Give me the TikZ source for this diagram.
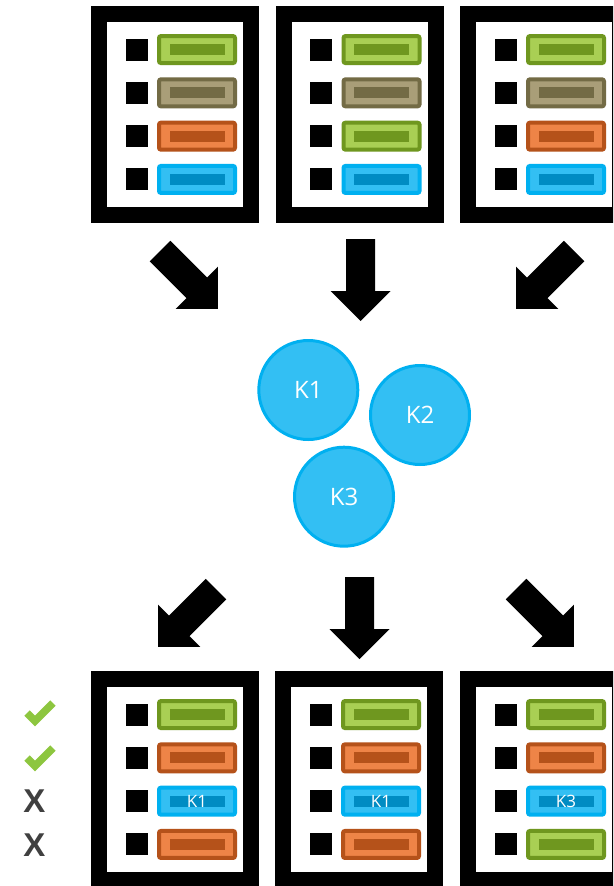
\documentclass[tikz,border=0pt]{standalone}
\usepackage{fontspec}
\setsansfont{Open Sans}
\newfontfamily\marcafont{Liberation Sans}
\usetikzlibrary{positioning}
\definecolor{gfill}{HTML}{A9CF54}
\definecolor{gline}{HTML}{6F971F}
\definecolor{tfill}{HTML}{A99E78}
\definecolor{tline}{HTML}{736B45}
\definecolor{ofill}{HTML}{EE8447}
\definecolor{oline}{HTML}{B5521A}
\definecolor{bfill}{HTML}{33BFF3}
\definecolor{bline}{HTML}{00B0F0}
\definecolor{bdark}{HTML}{008CC3}
\definecolor{okgreen}{HTML}{8DC63F}
\definecolor{xgray}{HTML}{404040}
\begin{document}
\begin{tikzpicture}[x=1pt, y=-1pt,
  doc/.style={draw=black, line width=16pt, fill=white, minimum width=152pt, minimum height=201pt, inner sep=0pt},
  sq/.style={fill=black, minimum size=22pt, inner sep=0pt},
  slot/.style n args={3}{draw=#2, fill=#1, line width=4pt, rounded corners=2pt, minimum width=76pt, minimum height=27pt, inner sep=0pt,
    text=white, font=\sffamily\fontsize{17}{17}\selectfont,
    path picture={\fill[#3, sharp corners] ([xshift=-27.5pt, yshift=-5.5pt]path picture bounding box.center) rectangle ([xshift=27.5pt, yshift=5.5pt]path picture bounding box.center);}},
  gslot/.style={slot={gfill}{gline}{gline}},
  tslot/.style={slot={tfill}{tline}{tline}},
  oslot/.style={slot={ofill}{oline}{oline}},
  bslot/.style={slot={bfill}{bline}{bdark}},
  clave/.style={circle, fill=bfill, draw=bline, line width=3pt, minimum size=99pt, inner sep=0pt, text=white, font=\sffamily\fontsize{24}{24}\selectfont},
  check/.style={draw=okgreen, line width=7.5pt},
  cruz/.style={text=xgray, inner sep=0pt, font=\marcafont\bfseries\fontsize{33}{33}\selectfont},
  flecha/.pic={\fill[black] (0,-14.5) -- (52,-14.5) -- (52,-30) -- (82,0) -- (52,30) -- (52,14.5) -- (0,14.5) -- cycle;}]
\useasboundingbox (0,0) rectangle (613,886);
\clip (0,0) rectangle (613,886);
% Documentos
\node [doc] (T1) at (175,114.5) {};
\node [doc] (T2) at (359.5,114.5) {};
\node [doc] (T3) at (544,114.5) {};
\node [doc] (B1) at (175,779.5) {};
\node [doc] (B2) at (359,779.5) {};
\node [doc] (B3) at (544,779.5) {};
% ---
% Filas arriba
% ---
\foreach \r/\s in {1/gslot,2/tslot,3/oslot,4/bslot}{
  \node [\s] (T1c\r) at ([xshift=22pt, yshift={(2.5-\r)*43.3pt}]T1.center) {};
  \node [sq, left=9pt of T1c\r] (T1s\r) {};
}
\foreach \r/\s in {1/gslot,2/tslot,3/gslot,4/bslot}{
  \node [\s] (T2c\r) at ([xshift=22pt, yshift={(2.5-\r)*43.3pt}]T2.center) {};
  \node [sq, left=9pt of T2c\r] (T2s\r) {};
}
\foreach \r/\s in {1/gslot,2/tslot,3/oslot,4/bslot}{
  \node [\s] (T3c\r) at ([xshift=22pt, yshift={(2.5-\r)*43.3pt}]T3.center) {};
  \node [sq, left=9pt of T3c\r] (T3s\r) {};
}
% ---
% Filas abajo
% ---
\foreach \r/\s/\t in {1/gslot/{},2/oslot/{},3/bslot/K1,4/oslot/{}}{
  \node [\s] (B1c\r) at ([xshift=22pt, yshift={(2.5-\r)*43.3pt}]B1.center) {\t};
  \node [sq, left=9pt of B1c\r] (B1s\r) {};
}
\foreach \r/\s/\t in {1/gslot/{},2/oslot/{},3/bslot/K1,4/oslot/{}}{
  \node [\s] (B2c\r) at ([xshift=22pt, yshift={(2.5-\r)*43.3pt}]B2.center) {\t};
  \node [sq, left=9pt of B2c\r] (B2s\r) {};
}
\foreach \r/\s/\t in {1/gslot/{},2/oslot/{},3/bslot/K3,4/gslot/{}}{
  \node [\s] (B3c\r) at ([xshift=22pt, yshift={(2.5-\r)*43.3pt}]B3.center) {\t};
  \node [sq, left=9pt of B3c\r] (B3s\r) {};
}
% Claves
\node [clave] (K1) at (308.3,390) {K1};
\node [clave] (K2) at (420,415) {K2};
\node [clave] (K3) at (344,496.7) {K3};
% Flechas
\pic [rotate=-45] at (160,251) {flecha};
\pic [rotate=-90] at (360.5,239) {flecha};
\pic [rotate=-135] at (574,251) {flecha};
\pic [rotate=-135] at (216,589) {flecha};
\pic [rotate=-90] at (359.5,577) {flecha};
\pic [rotate=-45] at (516,589) {flecha};
% Marcas
\draw [check] (27,713) -- (35,721) -- (53,703);
\draw [check] (27,758) -- (35,766) -- (53,748);
\node [cruz] (X1) at (34.5,801) {X};
\node [cruz] (X2) at (34.5,845) {X};
\end{tikzpicture}
\end{document}
